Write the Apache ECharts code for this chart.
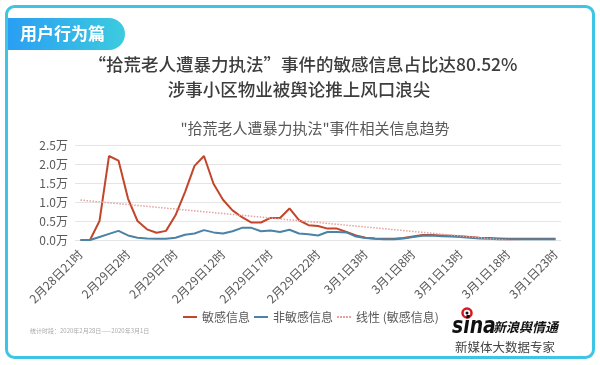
<!DOCTYPE html>
<html><head><meta charset="utf-8">
<script src="https://cdn.jsdelivr.net/npm/echarts@6/dist/echarts.min.js"></script>
<style>html,body{margin:0;padding:0;background:#fff}#c{width:600px;height:365px}</style>
</head><body><div id="c"></div>
<script>
const categories = [
  '2月28日21时','2月28日22时','2月28日23时',
  '2月29日0时','2月29日1时','2月29日2时','2月29日3时','2月29日4时','2月29日5时','2月29日6时','2月29日7时',
  '2月29日8时','2月29日9时','2月29日10时','2月29日11时','2月29日12时','2月29日13时','2月29日14时','2月29日15时',
  '2月29日16时','2月29日17时','2月29日18时','2月29日19时','2月29日20时','2月29日21时','2月29日22时','2月29日23时',
  '3月1日0时','3月1日1时','3月1日2时','3月1日3时','3月1日4时','3月1日5时','3月1日6时','3月1日7时',
  '3月1日8时','3月1日9时','3月1日10时','3月1日11时','3月1日12时','3月1日13时','3月1日14时','3月1日15时',
  '3月1日16时','3月1日17时','3月1日18时','3月1日19时','3月1日20时','3月1日21时','3月1日22时','3月1日23时'
];
const sensitive = [
  0,0,5000,22100,20900,10900,5000,2800,1900,2400,6500,
  12600,19500,22100,14800,10600,7800,6000,4600,4600,5800,
  5800,8300,5200,3900,3700,3000,3000,2100,1200,600,
  400,300,300,500,900,1300,1300,1200,1100,1000,
  800,600,500,400,300,300,300,300,300,300
];
const nonSensitive = [
  0,0,800,1600,2400,1200,600,400,300,300,600,
  1400,1700,2600,2000,1700,2300,3200,3200,2300,2500,
  2100,2700,1700,1500,1200,2100,2100,2000,900,500,
  300,200,200,400,800,1100,1200,1000,900,800,
  600,400,300,200,200,200,200,200,200,200
];
const seriesNames = ['敏感信息','非敏感信息','线性 (敏感信息)'];
const yMin = 0, yMax = 25000, yStep = 5000;

// linear trendline (least squares) of the sensitive series
const n = sensitive.length;
let sx=0, sy=0, sxy=0, sxx=0;
sensitive.forEach((v,i)=>{sx+=i;sy+=v;sxy+=i*v;sxx+=i*i;});
const slope=(n*sxy-sx*sy)/(n*sxx-sx*sx);
const icpt=(sy-slope*sx)/n;
const trend = sensitive.map((_,i)=>icpt+slope*i);

const CJK = '"Noto Sans CJK SC", "Noto Sans", sans-serif';
const dotIcon = 'path://M0,0h2v2h-2zM3,0h2v2h-2zM6,0h2v2h-2zM9,0h2v2h-2zM12,0h2v2h-2z';
const chart = echarts.init(document.getElementById('c'), null, {renderer:'canvas'});
const option = {
  animation:false,
  backgroundColor:'#ffffff',
  textStyle:{fontFamily:CJK},
  grid:[
    {left:75, right:39, top:145, bottom:125},
    {left:80.5, right:44.5, top:145, bottom:125}
  ],
  xAxis:[
    {type:'value', gridIndex:0, min:0, max:1, show:false},
    {type:'category', gridIndex:1, data:categories, boundaryGap:false,
     axisLine:{show:false}, axisTick:{show:false},
     axisLabel:{interval:4, rotate:45, margin:12, color:'#595959', fontSize:12, fontFamily:CJK}}
  ],
  yAxis:[
    {type:'value', gridIndex:0, min:yMin, max:yMax, interval:yStep,
     axisLine:{show:false}, axisTick:{show:false},
     splitLine:{lineStyle:{color:'#e4e4e4', width:1}},
     axisLabel:{margin:7, color:'#595959', fontSize:12, fontFamily:CJK,
       formatter:v=>(v/10000).toFixed(1)+'万'}},
    {type:'value', gridIndex:1, min:yMin, max:yMax, show:false}
  ],
  legend:{
    data:[
      {name:seriesNames[0], icon:'rect'},
      {name:seriesNames[1], icon:'rect'},
      {name:seriesNames[2], icon:dotIcon}
    ],
    left:183, top:311, padding:0, itemWidth:14, itemHeight:2, itemGap:4,
    textStyle:{color:'#595959', fontSize:12, fontFamily:CJK}
  },
  series:[
    {name:seriesNames[0], type:'line', xAxisIndex:1, yAxisIndex:1, data:sensitive,
     symbol:'none', lineStyle:{color:'#c1462b', width:2}, itemStyle:{color:'#c1462b'}},
    {name:seriesNames[1], type:'line', xAxisIndex:1, yAxisIndex:1, data:nonSensitive,
     symbol:'none', lineStyle:{color:'#4a83a5', width:2}, itemStyle:{color:'#4a83a5'}},
    {name:seriesNames[2], type:'line', xAxisIndex:1, yAxisIndex:1, data:trend,
     symbol:'none', clip:true, lineStyle:{color:'#e3a3a0', width:1.5, type:'dotted'}, itemStyle:{color:'#e3a3a0'}}
  ],
  graphic:[
    {type:'rect', shape:{x:7, y:18, width:118, height:32, r:[0,16,16,0]},
     style:{fill:{type:'linear', x:0, y:0, x2:1, y2:0, colorStops:[{offset:0,color:'#2a9ef3'},{offset:1,color:'#3ccbdf'}]}}},
    {type:'text', x:20, y:34, style:{text:'用户行为篇', fill:'#ffffff', font:'bold 17px '+CJK, verticalAlign:'middle'}},
    {type:'text', x:303, y:64, style:{text:'“拾荒老人遭暴力执法”事件的敏感信息占比达80.52%', fill:'#3d3d3d', font:'500 17.5px '+CJK, align:'center', verticalAlign:'middle'}},
    {type:'text', x:299, y:89, style:{text:'涉事小区物业被舆论推上风口浪尖', fill:'#3d3d3d', font:'500 17.5px '+CJK, align:'center', verticalAlign:'middle'}},
    {type:'text', x:315, y:128, style:{text:'"拾荒老人遭暴力执法"事件相关信息趋势', fill:'#595959', font:'15px '+CJK, align:'center', verticalAlign:'middle'}},
    {type:'text', x:30, y:331, style:{text:'统计时段：2020年2月28日——2020年3月1日', fill:'#aaaaaa', font:'6px '+CJK, verticalAlign:'middle'}},
    {type:'circle', shape:{cx:467, cy:313, r:4.5}, style:{fill:'none', stroke:'#d7191f', lineWidth:2.5}},
    {type:'circle', shape:{cx:467, cy:313, r:1.5}, style:{fill:'#111'}},
    {type:'text', x:452, y:327, scaleX:0.82, style:{text:'sina', fill:'#111111', font:'italic 900 23px "DejaVu Sans", sans-serif', verticalAlign:'middle'}},
    {type:'text', x:493, y:327, style:{text:'新浪舆情通', fill:'#111111', font:'italic bold 13px '+CJK, verticalAlign:'middle'}},
    {type:'text', x:455, y:347, style:{text:'新媒体大数据专家', fill:'#444444', font:'12.5px '+CJK, verticalAlign:'middle'}},
    {type:'rect', z:100, shape:{x:6.5, y:6.5, width:587, height:351, r:8}, style:{fill:'none', stroke:'#3ec5e5', lineWidth:3}}
  ]
};
chart.setOption(option);
</script>
</body></html>
